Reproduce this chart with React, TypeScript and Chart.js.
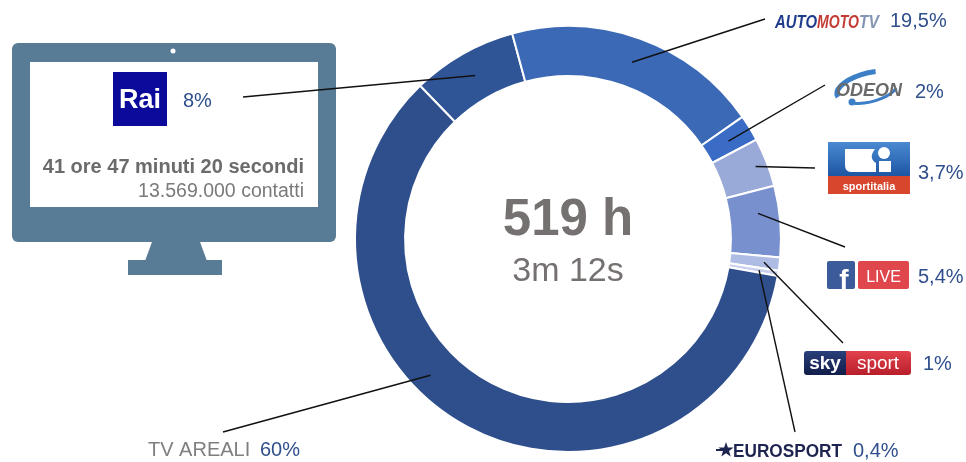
import { useEffect, useRef } from 'react';
import { Chart, registerables } from 'chart.js';

Chart.register(...registerables);

// channel shares of watched hours (%)
const channels = ['Rai', 'AutomotoTV', 'Odeon', 'Sportitalia', 'Facebook Live', 'Sky Sport', 'Eurosport', 'TV Areali'];
const shares = [8, 19.5, 2, 3.7, 5.4, 1, 0.4, 60];
const sliceColors = ['#2f5597', '#3c69b6', '#3a6cc6', '#9aaad8', '#7990cf', '#aebbe3', '#c9d1ee', '#2e4f8c'];

const totalHours = '519 h';
const avgTime = '3m 12s';
const raiTime = '41 ore 47 minuti 20 secondi';
const raiContacts = '13.569.000 contatti';

const FONT = '"Liberation Sans", Arial, Helvetica, sans-serif';
const pctColor = '#2f4f8c';
const grey = '#767171';

// where each leader line ends and where its percentage sits
const labelLayout = [
  { end: [243, 97], px: 183, py: 107, t: 0.5, r: 1 },
  { end: [765, 19], px: 890, py: 27, t: 0.5, r: 1 },
  { end: [825, 85], px: 915, py: 98, t: 0.5, r: 1 },
  { end: [815, 168], px: 918, py: 179, t: 0.5, r: 1.07 },
  { end: [845, 247], px: 918, py: 283, t: 0.35, r: 1.02 },
  { end: [843, 343], px: 923, py: 370, t: 0.5, r: 1.05 },
  { end: [795, 432], px: 853, py: 457, t: 0.5, r: 1.03 },
  { end: [223, 432], px: 260, py: 456, t: 0.58, r: 1.03 },
];

const fmtPct = (v: number) => String(v).replace('.', ',') + '%';

function text(ctx: CanvasRenderingContext2D, s: string, x: number, y: number, font: string, color: string, align: CanvasTextAlign = 'left') {
  ctx.font = font;
  ctx.fillStyle = color;
  ctx.textAlign = align;
  ctx.textBaseline = 'alphabetic';
  ctx.fillText(s, x, y);
}

function fitText(ctx: CanvasRenderingContext2D, s: string, x: number, y: number, w: number, font: string, color: string) {
  ctx.save();
  ctx.font = font;
  const m = ctx.measureText(s).width;
  ctx.translate(x, y);
  ctx.scale(w / m, 1);
  ctx.fillStyle = color;
  ctx.textAlign = 'left';
  ctx.textBaseline = 'alphabetic';
  ctx.fillText(s, 0, 0);
  ctx.restore();
}

const monitorPlugin = {
  id: 'monitor',
  beforeDraw(chart: Chart) {
    const ctx = chart.ctx;
    ctx.save();
    ctx.fillStyle = '#587b96';
    ctx.beginPath();
    ctx.roundRect(12, 43, 324, 199, 6);
    ctx.fill();
    // stand
    ctx.beginPath();
    ctx.moveTo(152, 242);
    ctx.lineTo(200, 242);
    ctx.lineTo(207, 261);
    ctx.lineTo(145, 261);
    ctx.closePath();
    ctx.fill();
    ctx.fillRect(128, 260, 94, 15);
    ctx.fillStyle = '#ffffff';
    ctx.fillRect(30, 62, 288, 145);
    ctx.beginPath();
    ctx.arc(173, 51, 2.5, 0, Math.PI * 2);
    ctx.fill();
    ctx.restore();
  },
};

function drawLogos(ctx: CanvasRenderingContext2D) {
  // Rai
  ctx.fillStyle = '#0b0a9a';
  ctx.fillRect(113, 72, 54, 54);
  text(ctx, 'Rai', 140, 108, `bold 27px ${FONT}`, '#ffffff', 'center');

  // AutomotoTV
  fitText(ctx, 'AUTO', 775, 28, 42, `italic bold 19px ${FONT}`, '#1f3b8c');
  fitText(ctx, 'MOTO', 817, 28, 42, `italic bold 19px ${FONT}`, '#c33b35');
  fitText(ctx, 'TV', 859, 28, 20, `italic bold 19px ${FONT}`, '#8495b5');

  // Odeon
  ctx.save();
  ctx.strokeStyle = '#3d7fc6';
  ctx.lineWidth = 5;
  ctx.beginPath();
  ctx.ellipse(869, 87, 33, 14, -0.25, Math.PI * 0.95, Math.PI * 1.6);
  ctx.stroke();
  ctx.lineWidth = 3;
  ctx.beginPath();
  ctx.ellipse(869, 89, 30, 13, -0.25, Math.PI * 0.15, Math.PI * 0.7);
  ctx.stroke();
  ctx.fillStyle = '#3d7fc6';
  ctx.beginPath();
  ctx.arc(852, 102, 3.5, 0, Math.PI * 2);
  ctx.fill();
  ctx.restore();
  fitText(ctx, 'ODEON', 836, 96, 66, `italic bold 19px ${FONT}`, '#6a6a6a');

  // Sportitalia
  const g = ctx.createLinearGradient(0, 142, 0, 176);
  g.addColorStop(0, '#4a8ad2');
  g.addColorStop(1, '#1d55a3');
  ctx.fillStyle = g;
  ctx.fillRect(828, 142, 82, 34);
  ctx.fillStyle = '#d8472d';
  ctx.fillRect(828, 176, 82, 18);
  ctx.fillStyle = '#ffffff';
  ctx.beginPath();
  ctx.moveTo(845, 149);
  ctx.lineTo(875, 149);
  ctx.quadraticCurveTo(868, 158, 876, 163);
  ctx.lineTo(876, 172);
  ctx.lineTo(851, 172);
  ctx.quadraticCurveTo(845, 172, 845, 165);
  ctx.closePath();
  ctx.fill();
  ctx.beginPath();
  ctx.arc(884, 153, 6, 0, Math.PI * 2);
  ctx.fill();
  ctx.fillRect(879, 161, 12, 11);
  text(ctx, 'sportitalia', 869, 190, `bold 11px ${FONT}`, '#ffffff', 'center');

  // Facebook Live
  ctx.fillStyle = '#3b5b9a';
  ctx.beginPath();
  ctx.roundRect(827, 261, 28, 28, 2);
  ctx.fill();
  text(ctx, 'f', 844, 289, `bold 28px ${FONT}`, '#ffffff', 'center');
  ctx.fillStyle = '#e0474c';
  ctx.beginPath();
  ctx.roundRect(858, 261, 51, 28, 2);
  ctx.fill();
  text(ctx, 'LIVE', 883.5, 282, `16px ${FONT}`, '#ffffff', 'center');

  // Sky sport
  const sg = ctx.createLinearGradient(0, 351, 0, 375);
  sg.addColorStop(0, '#2a3f7a');
  sg.addColorStop(1, '#111d4a');
  ctx.fillStyle = sg;
  ctx.beginPath();
  ctx.roundRect(804, 351, 44, 24, [3, 0, 0, 3]);
  ctx.fill();
  const rg = ctx.createLinearGradient(0, 351, 0, 375);
  rg.addColorStop(0, '#e2424c');
  rg.addColorStop(1, '#b81f2b');
  ctx.fillStyle = rg;
  ctx.beginPath();
  ctx.roundRect(846, 351, 65, 24, [0, 3, 3, 0]);
  ctx.fill();
  text(ctx, 'sky', 825, 369, `bold 19px ${FONT}`, '#ffffff', 'center');
  text(ctx, 'sport', 878, 369, `19px ${FONT}`, '#ffffff', 'center');

  // Eurosport
  ctx.save();
  ctx.fillStyle = '#1e2450';
  ctx.beginPath();
  const cx = 726, cy = 450;
  for (let i = 0; i < 10; i++) {
    const a = -Math.PI / 2 + (i * Math.PI) / 5;
    const rr = i % 2 === 0 ? 8 : 3.2;
    const px = cx + rr * Math.cos(a);
    const py = cy + rr * Math.sin(a);
    if (i === 0) ctx.moveTo(px, py);
    else ctx.lineTo(px, py);
  }
  ctx.closePath();
  ctx.fill();
  ctx.fillRect(716, 449, 10, 2);
  ctx.restore();
  fitText(ctx, 'EUROSPORT', 733, 457, 109, `bold 19px ${FONT}`, '#1e2450');

  // TV Areali
  text(ctx, 'TV AREALI', 148, 456, `20px ${FONT}`, '#7f7f7f');
}

const labelPlugin = {
  id: 'labels',
  afterDraw(chart: Chart) {
    const ctx = chart.ctx;
    const meta = chart.getDatasetMeta(0);
    ctx.save();

    // leader lines from the slices
    ctx.strokeStyle = '#111111';
    ctx.lineWidth = 1.4;
    meta.data.forEach((el: any, i: number) => {
      const lay = labelLayout[i];
      const a = el.startAngle + (el.endAngle - el.startAngle) * lay.t;
      const r = ((el.innerRadius + el.outerRadius) / 2) * lay.r;
      ctx.beginPath();
      ctx.moveTo(el.x + r * Math.cos(a), el.y + r * Math.sin(a));
      ctx.lineTo(lay.end[0], lay.end[1]);
      ctx.stroke();
    });

    drawLogos(ctx);

    shares.forEach((v, i) => {
      const lay = labelLayout[i];
      text(ctx, fmtPct(v), lay.px, lay.py, `20px ${FONT}`, pctColor);
    });

    // Rai details on the monitor
    text(ctx, raiTime, 304, 173, `bold 20px ${FONT}`, '#6b6b6b', 'right');
    text(ctx, raiContacts, 304, 197, `19.5px ${FONT}`, '#7a7a7a', 'right');

    // centre
    const el: any = meta.data[0];
    text(ctx, totalHours, el.x, 235, `bold 51px ${FONT}`, grey, 'center');
    text(ctx, avgTime, el.x, 281, `34px ${FONT}`, grey, 'center');
    ctx.restore();
  },
};

export default function App() {
  const chartRef = useRef<HTMLCanvasElement>(null);
  const chartInstanceRef = useRef<Chart | null>(null);

  useEffect(() => {
    document.body.style.margin = '0';
    if (!chartRef.current) return;
    const ctx = chartRef.current.getContext('2d');
    if (!ctx) return;

    if (chartInstanceRef.current) {
      chartInstanceRef.current.destroy();
    }

    chartInstanceRef.current = new Chart(ctx, {
      type: 'doughnut',
      data: {
        labels: channels,
        datasets: [
          {
            data: shares,
            backgroundColor: sliceColors,
            borderColor: '#ffffff',
            borderWidth: 2,
          },
        ],
      },
      options: {
        responsive: false,
        animation: false,
        cutout: '76.5%',
        rotation: -44,
        layout: { padding: { left: 354, right: 184, top: 25, bottom: 9 } },
        plugins: {
          legend: { display: false },
          tooltip: { enabled: false },
        },
      },
      plugins: [monitorPlugin, labelPlugin],
    });

    return () => {
      if (chartInstanceRef.current) {
        chartInstanceRef.current.destroy();
        chartInstanceRef.current = null;
      }
    };
  }, []);

  return (
    <div style={{ width: 966, height: 462, background: '#ffffff' }}>
      <canvas ref={chartRef} width={966} height={462} style={{ width: 966, height: 462, display: 'block' }} />
    </div>
  );
}
